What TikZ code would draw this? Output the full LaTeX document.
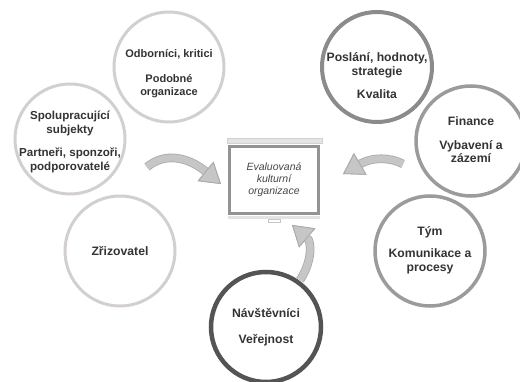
\documentclass[tikz,border=0pt]{standalone}
\usepackage{fontspec}
\setmainfont{Liberation Sans}
\usetikzlibrary{arrows.meta, calc}
\definecolor{kruhsvetly}{HTML}{D3CFCF}
\definecolor{kruhstredni}{HTML}{9C9A9A}
\definecolor{kruhtmavy}{HTML}{8C8A8A}
\definecolor{kruhcerny}{HTML}{555353}
\definecolor{textseda}{HTML}{333333}
\definecolor{ramseda}{HTML}{939393}
\definecolor{sipkavypln}{HTML}{C6C6C6}
\definecolor{sipkaobrys}{HTML}{A9A9A9}

\begin{document}
\begin{tikzpicture}[x=1pt, y=-1pt,
    kruh/.style={circle, draw, line width=3pt, minimum size=110pt, inner sep=0pt},
    popisek/.style={align=center, text=textseda, inner sep=0pt},
    sipka/.style={line width=7pt, draw=sipkavypln,
                  preaction={draw=sipkaobrys, line width=8.6pt},
                  -{Triangle[length=20pt, width=25pt, fill=sipkavypln, color=sipkaobrys, line width=0.8pt]}}]

    \useasboundingbox (0,0) rectangle (520,382);

    % ==========================================================
    % okoli organizace
    % ==========================================================
    \foreach \jmeno/\x/\y/\dy/\pismo/\barva/\tl/\popis in {
        odbornici/169/67/7/11/kruhsvetly/3/{Odborníci, kritici\\[11pt]Podobné\\organizace},
        spoluprace/70/139/3/11.6/kruhsvetly/3/{Spolupracující\\subjekty\\[10pt]Partneři, sponzoři,\\podporovatelé},
        zrizovatel/120/251/0/12.2/kruhsvetly/3/{Zřizovatel},
        navstevnici/266/327/0/12.2/kruhcerny/4.5/{Návštěvníci\\[12pt]Veřejnost},
        poslani/377/67/9/12.2/kruhtmavy/4/{Poslání, hodnoty,\\strategie\\[10pt]Kvalita},
        finance/471/141/-1/12.2/kruhstredni/3.5/{Finance\\[10pt]Vybavení a\\zázemí},
        tym/430/251/-1/12.2/kruhstredni/3.5/{Tým\\[9pt]Komunikace a\\procesy}} {
        \node[kruh, draw=\barva, line width=\tl pt] (\jmeno) at (\x,\y) {};
        \node[popisek, font=\fontsize{\pismo}{13.5}\selectfont\bfseries]
             (\jmeno-text) at ($(\jmeno)+(0,\dy)$) {\popis};
    }

    % ==========================================================
    % hodnocena organizace (promitaci platno)
    % ==========================================================
    \node[draw=ramseda, line width=3pt, fill=white, minimum width=89pt, minimum height=67pt,
          align=center, text=black!72, font=\fontsize{10.5}{12}\selectfont\itshape]
         (platno) at (274,180) {Evaluovaná\\kulturní\\organizace};
    \draw[gray!35, fill=gray!20, line width=0.6pt]
         ($(platno.north west)+(-1,-7)$) rectangle ($(platno.north east)+(2,-1.5)$);
    \fill[gray!22] ($(platno.south west)+(0,1.5)$) rectangle ($(platno.south east)+(0,4)$);
    \draw[gray!45, fill=white, line width=0.5pt]
         ($(platno.south)+(-6,4)$) rectangle ($(platno.south)+(6,7)$);

    % sipky smerem k organizaci
    \coordinate (zleva) at (147,167);
    \coordinate (zleva-cil) at (221,184);
    \coordinate (zprava) at (403,164);
    \coordinate (zprava-cil) at (343,174);
    \coordinate (zdola) at (300,280);
    \coordinate (zdola-cil) at (292,225);

    \draw[sipka] (zleva) .. controls +(18,-15) and +(-33,-27) .. (zleva-cil);
    \draw[sipka] (zprava) .. controls +(-13,-7) and +(29,-17) .. (zprava-cil);
    \draw[sipka] (zdola) .. controls +(12,-18) and +(20,17) .. (zdola-cil);

\end{tikzpicture}
\end{document}
